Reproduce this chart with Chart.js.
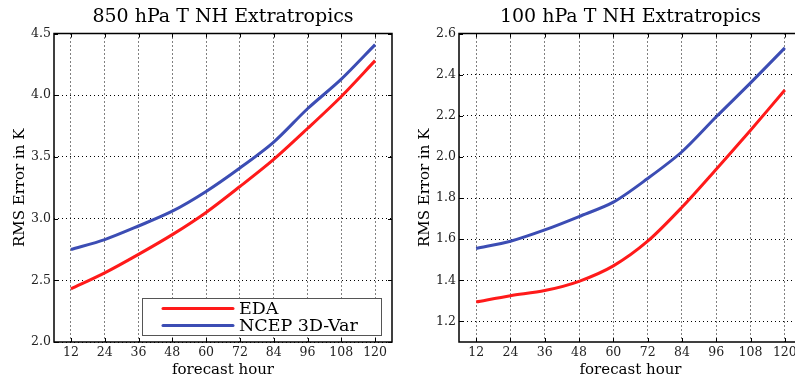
<!DOCTYPE html>
<html>
<head>
<meta charset="utf-8">
<script src="https://cdn.jsdelivr.net/npm/chart.js@4.4.0/dist/chart.umd.min.js"></script>
<style>
html,body{margin:0;padding:0;background:#fff;overflow:hidden;width:795px;height:379px;}
#c1{position:absolute;left:0;top:0;}
#c2{position:absolute;left:400px;top:0;}
</style>
</head>
<body>
<canvas id="c1" width="400" height="379"></canvas>
<canvas id="c2" width="402" height="379"></canvas>
<script>
const forecastHours = [12, 24, 36, 48, 60, 72, 84, 96, 108, 120];
const seriesNames = ['EDA', 'NCEP 3D-Var'];
const seriesColors = ['#ff1a1a', '#3c4db4'];

const t850_EDA  = [2.43, 2.56, 2.71, 2.87, 3.05, 3.26, 3.48, 3.73, 3.99, 4.28];
const t850_NCEP = [2.75, 2.83, 2.94, 3.06, 3.22, 3.41, 3.62, 3.89, 4.13, 4.41];
const t100_EDA  = [1.295, 1.325, 1.35, 1.395, 1.47, 1.59, 1.755, 1.94, 2.13, 2.325];
const t100_NCEP = [1.555, 1.59, 1.645, 1.71, 1.78, 1.895, 2.025, 2.195, 2.36, 2.53];

const yTicks850 = [2.0, 2.5, 3.0, 3.5, 4.0, 4.5];
const yTicks100 = [1.2, 1.4, 1.6, 1.8, 2.0, 2.2, 2.4, 2.6];

const titles = ['850 hPa T NH Extratropics', '100 hPa T NH Extratropics'];
const xTitle = 'forecast hour';
const yTitle = 'RMS Error in K';

const SERIF = "'DejaVu Serif', serif";

const framePlugin = {
  id: 'frame',
  afterDraw(chart) {
    const {ctx, chartArea: a, scales} = chart;
    const opts = chart.options.plugins.boxLegend;
    ctx.save();
    // title centred on the plot area
    ctx.fillStyle = '#000';
    ctx.font = '19px ' + SERIF;
    ctx.textAlign = 'center';
    ctx.textBaseline = 'middle';
    ctx.fillText(opts.title, (a.left + a.right) / 2, 17);

    ctx.strokeStyle = '#000';
    ctx.lineWidth = 1.5;
    ctx.strokeRect(a.left, a.top, a.right - a.left, a.bottom - a.top);
    ctx.lineWidth = 1;
    scales.x.ticks.forEach(t => {
      const x = Math.round(scales.x.getPixelForValue(t.value)) + 0.5;
      ctx.beginPath();
      ctx.moveTo(x, a.bottom); ctx.lineTo(x, a.bottom - 4);
      ctx.moveTo(x, a.top); ctx.lineTo(x, a.top + 4);
      ctx.stroke();
    });
    scales.y.ticks.forEach(t => {
      const y = Math.round(scales.y.getPixelForValue(t.value)) + 0.5;
      ctx.beginPath();
      ctx.moveTo(a.left, y); ctx.lineTo(a.left + 4, y);
      ctx.moveTo(a.right, y); ctx.lineTo(a.right - 4, y);
      ctx.stroke();
    });
    if (opts.show) {
      const x0 = a.left + 88, y0 = a.bottom - 44, w = 239, h = 37;
      ctx.fillStyle = '#fff';
      ctx.fillRect(x0, y0, w, h);
      ctx.strokeStyle = '#555';
      ctx.lineWidth = 1;
      ctx.strokeRect(x0 + 0.5, y0 + 0.5, w, h);
      chart.data.datasets.forEach((ds, i) => {
        const yy = y0 + 10.5 + i * 17;
        ctx.strokeStyle = ds.borderColor;
        ctx.lineWidth = 3;
        ctx.lineCap = 'round';
        ctx.beginPath();
        ctx.moveTo(x0 + 21, yy); ctx.lineTo(x0 + 91, yy);
        ctx.stroke();
        ctx.fillStyle = '#000';
        ctx.font = '17.5px ' + SERIF;
        ctx.textBaseline = 'middle';
        ctx.textAlign = 'left';
        ctx.fillText(ds.label, x0 + 97, yy + 1);
      });
    }
    ctx.restore();
  }
};

function makeChart(id, title, seriesA, seriesB, yMin, yMax, yTicks, yWidth, yTitlePad, padRight, showLegend) {
  return new Chart(document.getElementById(id), {
    type: 'line',
    data: {
      datasets: [
        { label: seriesNames[0], data: forecastHours.map((h, i) => ({x: h, y: seriesA[i]})),
          borderColor: seriesColors[0], borderWidth: 3, pointRadius: 0, tension: 0.3, fill: false },
        { label: seriesNames[1], data: forecastHours.map((h, i) => ({x: h, y: seriesB[i]})),
          borderColor: seriesColors[1], borderWidth: 3, pointRadius: 0, tension: 0.3, fill: false }
      ]
    },
    options: {
      responsive: false,
      animation: false,
      layout: { padding: { left: 0, right: padRight, top: 33.5, bottom: 0 } },
      plugins: {
        legend: { display: false },
        tooltip: { enabled: false },
        title: { display: false },
        boxLegend: { show: showLegend, title: title }
      },
      scales: {
        x: {
          type: 'linear', min: 6, max: 126,
          afterBuildTicks: s => { s.ticks = forecastHours.map(v => ({value: v})); },
          afterFit: s => { s.height = 37; },
          ticks: { color: '#222', font: { family: SERIF, size: 12.5 }, padding: 3, maxRotation: 0,
            callback: v => String(v) },
          grid: { color: '#000', lineWidth: 1, drawTicks: false },
          border: { display: false, dash: [1, 3] },
          title: { display: true, text: xTitle, color: '#000', font: { family: SERIF, size: 15 }, padding: { top: 0, bottom: 0 } }
        },
        y: {
          type: 'linear', min: yMin, max: yMax,
          afterBuildTicks: s => { s.ticks = yTicks.map(v => ({value: v})); },
          afterFit: s => { s.width = yWidth; },
          ticks: { color: '#222', font: { family: SERIF, size: 12.5 }, padding: 3,
            callback: v => v.toFixed(1) },
          grid: { color: '#000', lineWidth: 1, drawTicks: false },
          border: { display: false, dash: [1, 3] },
          title: { display: true, text: yTitle, color: '#000', font: { family: SERIF, size: 15 }, padding: { top: yTitlePad, bottom: 0 } }
        }
      }
    },
    plugins: [framePlugin]
  });
}

makeChart('c1', titles[0], t850_EDA, t850_NCEP, 2.0, 4.5, yTicks850, 54, 11, 8, true);
makeChart('c2', titles[1], t100_EDA, t100_NCEP, 1.1, 2.6, yTicks100, 59, 16, 0, false);
</script>
</body>
</html>
